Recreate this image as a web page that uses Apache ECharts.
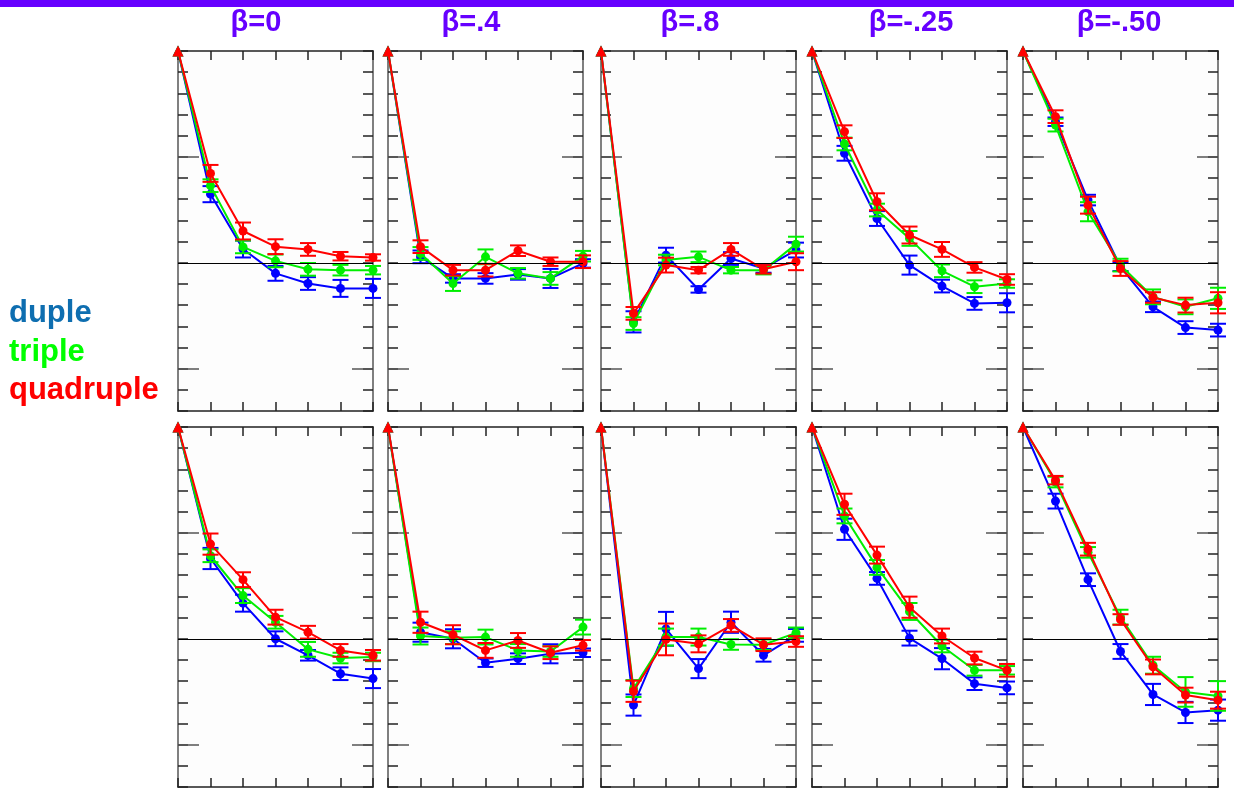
<!DOCTYPE html>
<html>
<head>
<meta charset="utf-8">
<script src="https://cdn.jsdelivr.net/npm/echarts@6/dist/echarts.min.js"></script>
<style>
  html, body { margin: 0; padding: 0; background: #fff; }
  #chart { width: 1234px; height: 788px; }
</style>
</head>
<body>
<div id="chart"></div>
<script>
// x positions of the 7 steps, and the column headings
const steps = [0, 1, 2, 3, 4, 5, 6];
const betaLabels = ['β=0', 'β=.4', 'β=.8', 'β=-.25', 'β=-.50'];
const seriesNames = ['duple', 'triple', 'quadruple'];

// top row, one array per column (β=0, .4, .8, -.25, -.50)
const dupleTop = [
  [1, 0.324, 0.065, -0.050, -0.098, -0.121, -0.121],
  [1, 0.028, -0.074, -0.074, -0.055, -0.074, -0.003],
  [1, -0.279, 0.036, -0.126, 0.020, -0.027, 0.060],
  [1, 0.517, 0.209, -0.011, -0.110, -0.192, -0.189],
  [1, 0.666, 0.296, -0.019, -0.208, -0.306, -0.318]
];
const tripleTop = [
  [1, 0.364, 0.075, 0.009, -0.031, -0.035, -0.035],
  [1, 0.044, -0.098, 0.028, -0.050, -0.074, 0.031],
  [1, -0.287, 0.013, 0.028, -0.035, -0.035, 0.088],
  [1, 0.561, 0.249, 0.115, -0.038, -0.113, -0.098],
  [1, 0.650, 0.241, -0.011, -0.161, -0.208, -0.168]
];
const quadTop = [
  [1, 0.422, 0.150, 0.076, 0.063, 0.031, 0.025],
  [1, 0.076, -0.035, -0.035, 0.057, 0.005, 0.005],
  [1, -0.239, -0.011, -0.035, 0.063, -0.031, 0.005],
  [1, 0.619, 0.288, 0.131, 0.063, -0.022, -0.079],
  [1, 0.690, 0.272, -0.027, -0.164, -0.200, -0.189]
];
// bottom row
const dupleBottom = [
  [1, 0.379, 0.168, 0.000, -0.078, -0.165, -0.188],
  [1, 0.031, 0.000, -0.113, -0.094, -0.071, -0.066],
  [1, -0.313, 0.047, -0.141, 0.078, -0.078, 0.016],
  [1, 0.517, 0.285, 0.003, -0.094, -0.212, -0.232],
  [1, 0.650, 0.279, -0.060, -0.263, -0.348, -0.337]
];
const tripleBottom = [
  [1, 0.392, 0.204, 0.078, -0.050, -0.091, -0.086],
  [1, 0.013, 0.005, 0.008, -0.055, -0.060, 0.055],
  [1, -0.235, 0.008, 0.008, -0.027, -0.028, 0.028],
  [1, 0.580, 0.337, 0.129, -0.034, -0.149, -0.149],
  [1, 0.740, 0.408, 0.102, -0.125, -0.251, -0.270]
];
const quadBottom = [
  [1, 0.447, 0.279, 0.102, 0.031, -0.055, -0.078],
  [1, 0.078, 0.019, -0.055, -0.008, -0.066, -0.031],
  [1, -0.248, -0.003, -0.024, 0.063, -0.028, -0.013],
  [1, 0.635, 0.395, 0.149, 0.013, -0.091, -0.149],
  [1, 0.749, 0.423, 0.091, -0.133, -0.266, -0.290]
];

// error bar half widths (same layout as the values)
const dupleErrTop = [
  [0, 0.038, 0.040, 0.035, 0.030, 0.040, 0.045],
  [0, 0.030, 0.020, 0.025, 0.025, 0.045, 0.020],
  [0, 0.050, 0.035, 0.015, 0.030, 0.020, 0.035],
  [0, 0.035, 0.035, 0.045, 0.030, 0.030, 0.045],
  [0, 0.020, 0.025, 0.020, 0.025, 0.030, 0.030]
];
const tripleErrTop = [
  [0, 0.030, 0.030, 0.030, 0.030, 0.025, 0.020],
  [0, 0.030, 0.035, 0.035, 0.025, 0.030, 0.025],
  [0, 0.030, 0.025, 0.025, 0.015, 0.020, 0.035],
  [0, 0.030, 0.030, 0.035, 0.030, 0.030, 0.020],
  [0, 0.030, 0.045, 0.030, 0.035, 0.035, 0.050]
];
const quadErrTop = [
  [0, 0.040, 0.040, 0.035, 0.030, 0.020, 0.015],
  [0, 0.030, 0.025, 0.030, 0.025, 0.020, 0.030],
  [0, 0.030, 0.035, 0.015, 0.030, 0.020, 0.040],
  [0, 0.030, 0.040, 0.040, 0.035, 0.025, 0.025],
  [0, 0.030, 0.040, 0.035, 0.025, 0.035, 0.050]
];
const dupleErrBottom = [
  [0, 0.050, 0.040, 0.035, 0.025, 0.030, 0.045],
  [0, 0.045, 0.045, 0.020, 0.025, 0.045, 0.020],
  [0, 0.050, 0.080, 0.045, 0.050, 0.030, 0.030],
  [0, 0.050, 0.030, 0.035, 0.050, 0.030, 0.030],
  [0, 0.035, 0.030, 0.035, 0.050, 0.050, 0.050]
];
const tripleErrBottom = [
  [0, 0.030, 0.035, 0.030, 0.035, 0.025, 0.020],
  [0, 0.040, 0.030, 0.035, 0.030, 0.025, 0.035],
  [0, 0.040, 0.040, 0.040, 0.025, 0.025, 0.025],
  [0, 0.035, 0.035, 0.040, 0.030, 0.025, 0.020],
  [0, 0.025, 0.025, 0.035, 0.040, 0.070, 0.070]
];
const quadErrBottom = [
  [0, 0.050, 0.035, 0.035, 0.030, 0.030, 0.025],
  [0, 0.050, 0.045, 0.035, 0.035, 0.030, 0.025],
  [0, 0.050, 0.075, 0.040, 0.030, 0.030, 0.025],
  [0, 0.050, 0.040, 0.050, 0.035, 0.030, 0.030],
  [0, 0.020, 0.030, 0.025, 0.035, 0.035, 0.040]
];

const valuesByRow = [[dupleTop, tripleTop, quadTop], [dupleBottom, tripleBottom, quadBottom]];
const errByRow = [[dupleErrTop, tripleErrTop, quadErrTop], [dupleErrBottom, tripleErrBottom, quadErrBottom]];

const colors = ['#0000ff', '#00ee00', '#ff0000'];
const legendColors = ['#0e6eb0', '#00ff00', '#ff0000'];
const purple = '#6600ff';

const colLefts = [178, 388, 601, 812, 1023];
const colWidth = 195;
const rowTops = [51, 427];
const rowHeight = 360;
const yMin = -0.7, yMax = 1.0;

// small ticks every 0.1, long ticks at +-0.5
const minorTicks = [];
for (let i = -7; i <= 10; i++) minorTicks.push(i / 10);
const majorTicks = [-0.5, 0.5];

function errRender(params, api) {
  const x = api.value(0);
  const p1 = api.coord([x, api.value(1)]);
  const p2 = api.coord([x, api.value(2)]);
  const half = 8;
  const style = { stroke: api.visual('color'), lineWidth: 2 };
  return {
    type: 'group',
    children: [
      { type: 'line', shape: { x1: p1[0], y1: p1[1], x2: p2[0], y2: p2[1] }, style: style },
      { type: 'line', shape: { x1: p1[0] - half, y1: p1[1], x2: p1[0] + half, y2: p1[1] }, style: style },
      { type: 'line', shape: { x1: p2[0] - half, y1: p2[1], x2: p2[0] + half, y2: p2[1] }, style: style }
    ]
  };
}

const grid = [], xAxis = [], yAxis = [], series = [];

for (let r = 0; r < 2; r++) {
  for (let c = 0; c < 5; c++) {
    const g = r * 5 + c;
    grid.push({
      left: colLefts[c], top: rowTops[r], width: colWidth, height: rowHeight,
      show: true, backgroundColor: '#fdfdfd', borderWidth: 0
    });
    ['bottom', 'top'].forEach(function (pos) {
      xAxis.push({
        type: 'value', gridIndex: g, position: pos, min: 0, max: 6, interval: 1,
        axisLine: { show: true, onZero: false, lineStyle: { color: '#222', width: 1.5 } },
        axisTick: { show: true, inside: true, length: 9, lineStyle: { color: '#222', width: 1.5 } },
        axisLabel: { show: false }, splitLine: { show: false }
      });
    });
    ['left', 'right'].forEach(function (pos) {
      yAxis.push({
        type: 'value', gridIndex: g, position: pos, min: yMin, max: yMax,
        axisLine: { show: true, onZero: false, lineStyle: { color: '#808080', width: 2 } },
        axisTick: { show: true, inside: true, length: 10, customValues: minorTicks,
          lineStyle: { color: '#222', width: 1.5 } },
        axisLabel: { show: false }, splitLine: { show: false }
      });
      yAxis.push({
        type: 'value', gridIndex: g, position: pos, min: yMin, max: yMax,
        axisLine: { show: false, onZero: false },
        axisTick: { show: true, inside: true, length: 21, customValues: majorTicks,
          lineStyle: { color: '#555', width: 1.5 } },
        axisLabel: { show: false }, splitLine: { show: false }
      });
    });

    for (let s = 0; s < 3; s++) {
      const vals = valuesByRow[r][s][c];
      const errs = errByRow[r][s][c];
      const line = {
        name: seriesNames[s], type: 'line', xAxisIndex: g * 2, yAxisIndex: g * 4,
        z: 2 + s,
        data: steps.map(function (x, i) {
          if (i === 0) return { value: [x, vals[i]], symbol: 'triangle', symbolSize: 11 };
          return [x, vals[i]];
        }),
        symbol: 'circle', symbolSize: 9, showSymbol: true,
        lineStyle: { color: colors[s], width: 2 },
        itemStyle: { color: colors[s] },
        emphasis: { disabled: true }
      };
      if (s === 0) {
        line.markLine = {
          silent: true, symbol: ['none', 'none'], label: { show: false },
          lineStyle: { color: '#000', width: 1, type: 'solid' },
          data: [{ yAxis: 0 }]
        };
      }
      series.push(line);
      series.push({
        name: seriesNames[s], type: 'custom', xAxisIndex: g * 2, yAxisIndex: g * 4,
        z: 2 + s,
        itemStyle: { color: colors[s] },
        renderItem: errRender,
        encode: { x: 0, y: [1, 2] },
        data: steps.filter(function (x, i) { return errs[i] > 0; })
          .map(function (x) { return [x, vals[x] - errs[x], vals[x] + errs[x]]; })
      });
    }
  }
}

const titleCenters = [256, 471, 690, 911, 1119];
const graphic = [
  { type: 'rect', left: 0, top: 0, shape: { width: 1234, height: 7 }, style: { fill: purple } }
];
betaLabels.forEach(function (t, i) {
  graphic.push({
    type: 'text', x: titleCenters[i], y: 23,
    style: { text: t, fill: purple, font: 'bold 29px "Liberation Sans", Arial, sans-serif',
      align: 'center', verticalAlign: 'middle' }
  });
});

const myChart = echarts.init(document.getElementById('chart'));
const option = {
  animation: false,
  backgroundColor: '#ffffff',
  legend: {
    orient: 'vertical', left: 4, top: 298, padding: 0,
    icon: 'none', itemWidth: 0, itemHeight: 31, itemGap: 7.5,
    selectedMode: false,
    textStyle: { fontFamily: 'Liberation Sans, Arial, sans-serif', fontWeight: 'bold', fontSize: 31, lineHeight: 31 },
    data: seriesNames.map(function (n, i) {
      return { name: n, textStyle: { color: legendColors[i] } };
    })
  },
  graphic: graphic,
  grid: grid,
  xAxis: xAxis,
  yAxis: yAxis,
  series: series
};
myChart.setOption(option);
window.addEventListener('resize', function () {
  myChart.resize();
});
</script>
</body>
</html>
